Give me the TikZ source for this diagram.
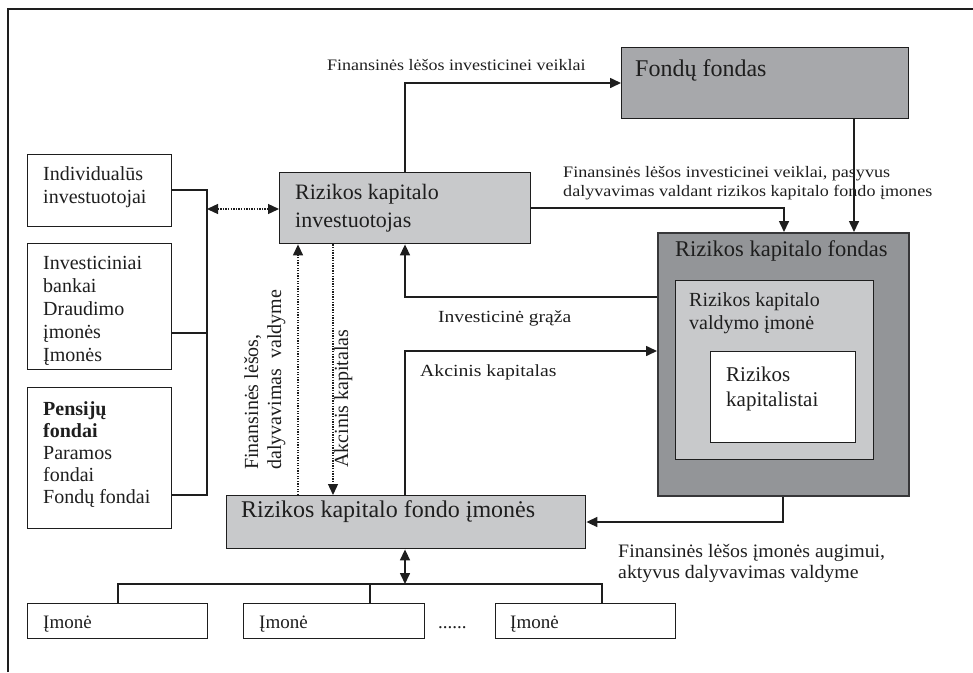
\documentclass[tikz,border=0pt]{standalone}
\usepackage{fontspec}
\setmainfont{Liberation Serif}
\usepackage{graphicx}
\usetikzlibrary{arrows.meta}
\definecolor{lg}{RGB}{200,201,203}
\definecolor{mg}{RGB}{167,168,171}
\definecolor{dg}{RGB}{147,149,152}
\definecolor{ln}{RGB}{30,30,30}
\newcommand{\ml}[1]{\begin{tabular}[t]{@{}l@{}}#1\end{tabular}}
\newcommand{\fsz}[2]{\fontsize{#1}{#2}\selectfont}
\begin{document}
\begin{tikzpicture}[x=1pt,y=-1pt,
  box/.style={draw=ln, line width=1.4pt, inner sep=0, anchor=north west},
  txt/.style={inner sep=0, anchor=base west, text=ln},
  conn/.style={draw=ln, line width=1.6pt},
  arr/.style={conn, -{Triangle[length=11pt,width=10pt]}},
  darr/.style={conn, {Triangle[length=11pt,width=10pt]}-{Triangle[length=11pt,width=10pt]}},
  dotl/.style={draw=ln, line width=1.3pt, dash pattern=on 1.3pt off 1.3pt}]
\useasboundingbox (0,0) rectangle (973,672);
% frame
\draw[ln, line width=1.5pt] (8,672) -- (8,9) -- (973,9);

% boxes
\node[box, minimum width=144, minimum height=72] (ind) at (27,154) {};
\node[box, minimum width=144, minimum height=126] (inv) at (27,243) {};
\node[box, minimum width=144, minimum height=141] (pen) at (27,387) {};
\node[box, fill=lg, minimum width=251, minimum height=71] (rki) at (279,172) {};
\node[box, fill=mg, minimum width=287, minimum height=71] (ff) at (621,47) {};
\node[box, fill=dg, line width=2.4pt, draw={rgb,255:red,55;green,55;blue,57}, minimum width=251, minimum height=263] (rkf) at (657,232) {};
\node[box, fill=lg, minimum width=198, minimum height=179] (rkv) at (675,280) {};
\node[box, fill=white, minimum width=145, minimum height=91] (rkk) at (710,351) {};
\node[box, fill=lg, minimum width=359, minimum height=53] (rkfi) at (226,495) {};
\node[box, minimum width=180, minimum height=35] (im1) at (27,603) {};
\node[box, minimum width=181, minimum height=35] (im2) at (243,603) {};
\node[box, minimum width=180, minimum height=35] (im3) at (495,603) {};

% box texts
\node[txt] (tind) at (43,180) {\fsz{20}{23}\ml{Individualūs\\investuotojai}};
\node[txt] (tinv) at (43,269) {\fsz{20}{23}\ml{Investiciniai\\bankai\\Draudimo\\įmonės\\Įmonės}};
\node[txt] (tpen) at (43,415) {\fsz{20}{22}\ml{\textbf{Pensijų}\\\textbf{fondai}\\Paramos\\fondai\\Fondų fondai}};
\node[txt] (trki) at (295,199) {\fsz{22}{28}\ml{Rizikos kapitalo\\investuotojas}};
\node[txt] (tff) at (635,76) {\fsz{24}{28}Fondų fondas};
\node[txt] (trkf) at (675,256) {\fsz{22.5}{26}Rizikos kapitalo fondas};
\node[txt] (trkv) at (689,306) {\fsz{20}{23}\ml{Rizikos kapitalo\\valdymo įmonė}};
\node[txt] (trkk) at (726,381) {\fsz{21}{25}\ml{Rizikos\\kapitalistai}};
\node[txt] (trkfi) at (241,517) {\fsz{24}{28}Rizikos kapitalo fondo įmonės};
\node[txt] (tim1) at (43,628) {\fsz{19}{22}Įmonė};
\node[txt] (tim2) at (259,628) {\fsz{19}{22}Įmonė};
\node[txt] (tim3) at (510,628) {\fsz{19}{22}Įmonė};
\node[txt] (tdots) at (438,628) {\fsz{19}{22}......};

% connector labels
\node[txt] (l1) at (327,70) {\fsz{16}{19}\scalebox{1.125}[1]{Finansinės lėšos investicinei veiklai}};
\node[txt] (l2) at (563,177) {\fsz{16}{19}\scalebox{1.13}[1]{\ml{Finansinės lėšos investicinei veiklai, pasyvus\\dalyvavimas valdant rizikos kapitalo fondo įmones}}};
\node[txt] (l3) at (438,322) {\fsz{17}{20}\scalebox{1.15}[1]{Investicinė grąža}};
\node[txt] (l4) at (420,376) {\fsz{17}{20}\scalebox{1.16}[1]{Akcinis kapitalas}};
\node[txt] (l5) at (618,557) {\fsz{19}{21}\scalebox{1.045}[1]{\ml{Finansinės lėšos įmonės augimui,\\aktyvus dalyvavimas valdyme}}};
\node[txt, rotate=90] (l6) at (258,470) {\fsz{20}{23}\ml{Finansinės lėšos,\\dalyvavimas~~valdyme}};
\node[txt, rotate=90] (l7) at (348,468) {\fsz{20}{23}Akcinis kapitalas};

% bracket on the left
\coordinate (b1) at (207,190);
\coordinate (b2) at (207,333);
\coordinate (b3) at (207,495);
\coordinate (b4) at (207,209);
\draw[conn] (ind.east |- b1) -- (b1) -- (b3) -- (b3 -| pen.east);
\draw[conn] (inv.east |- b2) -- (b2);
\draw[dotl, {Triangle[length=11pt,width=10pt]}-{Triangle[length=11pt,width=10pt]}] (b4) -- (b4 -| rki.west);

% main connectors
\coordinate (a1) at (405,83);
\draw[arr] (a1 |- rki.north) -- (a1) -- (a1 -| ff.west);
\coordinate (a2) at (854,0);
\draw[arr] (a2 |- ff.south) -- (a2 |- rkf.north);
\coordinate (a3) at (784,208);
\draw[arr] (a3 -| rki.east) -- (a3) -- (a3 |- rkf.north);
\coordinate (a4) at (405,297);
\draw[arr] (a4 -| rkf.west) -- (a4) -- (a4 |- rki.south);
\coordinate (a5) at (405,351);
\draw[arr] (a5 |- rkfi.north) -- (a5) -- (a5 -| rkf.west);
\coordinate (a6) at (783,522);
\draw[arr] (a6 |- rkf.south) -- (a6) -- (a6 -| rkfi.east);

% dotted vertical connectors
\coordinate (d1) at (298,0);
\coordinate (d2) at (333,0);
\draw[dotl, -{Triangle[length=11pt,width=10pt]}] (d1 |- rkfi.north) -- (d1 |- rki.south);
\draw[dotl, -{Triangle[length=11pt,width=10pt]}] (d2 |- rki.south) -- (d2 |- rkfi.north);

% tree to companies
\coordinate (t) at (405,584);
\coordinate (t1) at (118,584);
\coordinate (t2) at (370,584);
\coordinate (t3) at (602,584);
\draw[darr] (t |- rkfi.south) -- (t);
\draw[draw=ln, line width=1.2pt] (t1 |- im1.north) -- (t1) -- (t3) -- (t3 |- im3.north);
\draw[draw=ln, line width=1.2pt] (t2) -- (t2 |- im2.north);
\end{tikzpicture}
\end{document}
